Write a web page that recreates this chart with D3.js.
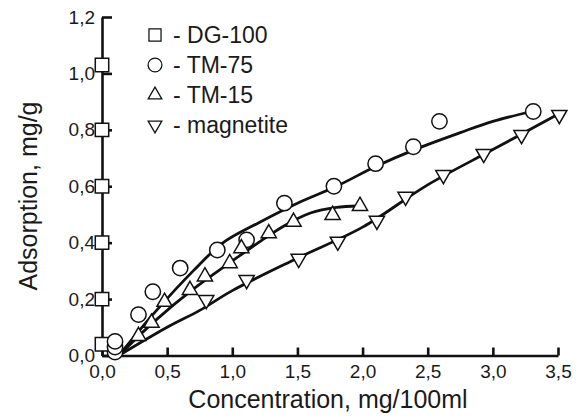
<!DOCTYPE html>
<html>
<head>
<meta charset="utf-8">
<script src="https://cdn.jsdelivr.net/npm/d3@7"></script>
<style>
  body { margin: 0; background: #fff; }
  text { font-family: "Liberation Sans", Arial, sans-serif; fill: #1a1a1a; }
</style>
</head>
<body>
<div id="chart"></div>
<script>
const width = 582;
const height = 419;

// points mesurés
const dgX = [0, 0, 0, 0, 0, 0];
const dgY = [0.04, 0.2, 0.4, 0.6, 0.8, 1.03];

const tm75X = [0.1, 0.1, 0.1, 0.28, 0.39, 0.6, 0.885, 1.11, 1.40, 1.78, 2.10, 2.39, 2.59, 3.31];
const tm75Y = [0.012, 0.03, 0.05, 0.145, 0.226, 0.31, 0.374, 0.41, 0.54, 0.60, 0.68, 0.74, 0.83, 0.865];

const tm15X = [0.28, 0.38, 0.48, 0.675, 0.79, 0.98, 1.07, 1.28, 1.47, 1.77, 1.98];
const tm15Y = [0.069, 0.116, 0.19, 0.232, 0.28, 0.327, 0.38, 0.433, 0.474, 0.498, 0.53];

const magX = [0.80, 1.11, 1.51, 1.81, 2.11, 2.33, 2.62, 2.93, 3.22, 3.51];
const magY = [0.197, 0.268, 0.343, 0.404, 0.478, 0.563, 0.64, 0.715, 0.782, 0.853];

// courbes lissées
const fit75X = [0.13, 0.4, 0.7, 0.93, 1.2, 1.5, 1.8, 2.1, 2.4, 2.75, 3.0, 3.3];
const fit75Y = [0.0, 0.15, 0.3, 0.40, 0.47, 0.54, 0.60, 0.67, 0.73, 0.79, 0.83, 0.865];
const fit15X = [0.13, 0.4, 0.7, 1.0, 1.2, 1.4, 1.6, 1.8, 1.97];
const fit15Y = [0.0, 0.12, 0.235, 0.335, 0.40, 0.46, 0.505, 0.525, 0.53];
const fitMagX = [0.13, 0.5, 0.75, 1.0, 1.5, 2.0, 2.5, 3.0, 3.5];
const fitMagY = [0.0, 0.10, 0.16, 0.23, 0.345, 0.455, 0.605, 0.73, 0.855];

const xTicks = [0, 0.5, 1.0, 1.5, 2.0, 2.5, 3.0, 3.5];
const yTicks = [0, 0.2, 0.4, 0.6, 0.8, 1.0, 1.2];

const legendLabels = ["- DG-100", "- TM-75", "- TM-15", "- magnetite"];

const x = d3.scaleLinear().domain([0, 3.5]).range([102, 558]);
const y = d3.scaleLinear().domain([0, 1.2]).range([355.5, 17]);

const svg = d3.select("#chart").append("svg")
    .attr("width", width)
    .attr("height", height);

const fmt = v => d3.format(".1f")(v).replace(".", ",");

// axes
const gx = svg.append("g")
    .attr("transform", `translate(0,${y(0)})`)
    .call(d3.axisBottom(x).tickValues(xTicks).tickFormat(fmt).tickSizeInner(-8).tickSizeOuter(0).tickPadding(9));
const gy = svg.append("g")
    .attr("transform", `translate(${x(0)},0)`)
    .call(d3.axisLeft(y).tickValues(yTicks).tickFormat(fmt).tickSizeInner(-10).tickSizeOuter(0).tickPadding(7));

[gx, gy].forEach(g => {
    g.selectAll("path, line").attr("stroke", "#111").attr("stroke-width", 2.6);
    g.selectAll("text").style("font-size", "19px").attr("fill", "#1a1a1a");
});

svg.append("text")
    .attr("x", 328).attr("y", 408)
    .attr("text-anchor", "middle")
    .style("font-size", "25px")
    .text("Concentration, mg/100ml");

svg.append("text")
    .attr("transform", "translate(37,196) rotate(-90)")
    .attr("text-anchor", "middle")
    .style("font-size", "25px")
    .text("Adsorption, mg/g");

// lignes
const line = d3.line()
    .x(d => x(d[0]))
    .y(d => y(d[1]))
    .curve(d3.curveCatmullRom);

[[fit75X, fit75Y], [fit15X, fit15Y], [fitMagX, fitMagY]].forEach(([xs, ys]) => {
    svg.append("path")
        .datum(d3.zip(xs, ys))
        .attr("d", line)
        .attr("fill", "none")
        .attr("stroke", "#111")
        .attr("stroke-width", 2.8);
});

// marqueurs
const symSquare = d3.symbol().type(d3.symbolSquare).size(180)();
const symCircle = d3.symbol().type(d3.symbolCircle).size(185)();
const symTri = d3.symbol().type(d3.symbolTriangle).size(100)();

const series = [
    { xs: dgX, ys: dgY, sym: symSquare, rot: 0 },
    { xs: tm75X, ys: tm75Y, sym: symCircle, rot: 0 },
    { xs: tm15X, ys: tm15Y, sym: symTri, rot: 0 },
    { xs: magX, ys: magY, sym: symTri, rot: 180 }
];

series.forEach(s => {
    svg.append("g").selectAll("path")
        .data(d3.zip(s.xs, s.ys))
        .enter()
        .append("path")
        .attr("d", s.sym)
        .attr("transform", d => `translate(${x(d[0])},${y(d[1])}) rotate(${s.rot})`)
        .attr("fill", "white")
        .attr("stroke", "#111")
        .attr("stroke-width", 1.5);
});

// légende
const legend = svg.append("g");
series.forEach((s, i) => {
    const ly = 35 + i * 30;
    legend.append("path")
        .attr("d", s.sym)
        .attr("transform", `translate(155,${ly}) rotate(${s.rot}) scale(0.9)`)
        .attr("fill", "white")
        .attr("stroke", "#111")
        .attr("stroke-width", 1.4);
    legend.append("text")
        .attr("x", 173).attr("y", ly + 8)
        .style("font-size", "23px")
        .text(legendLabels[i]);
});
</script>
</body>
</html>
